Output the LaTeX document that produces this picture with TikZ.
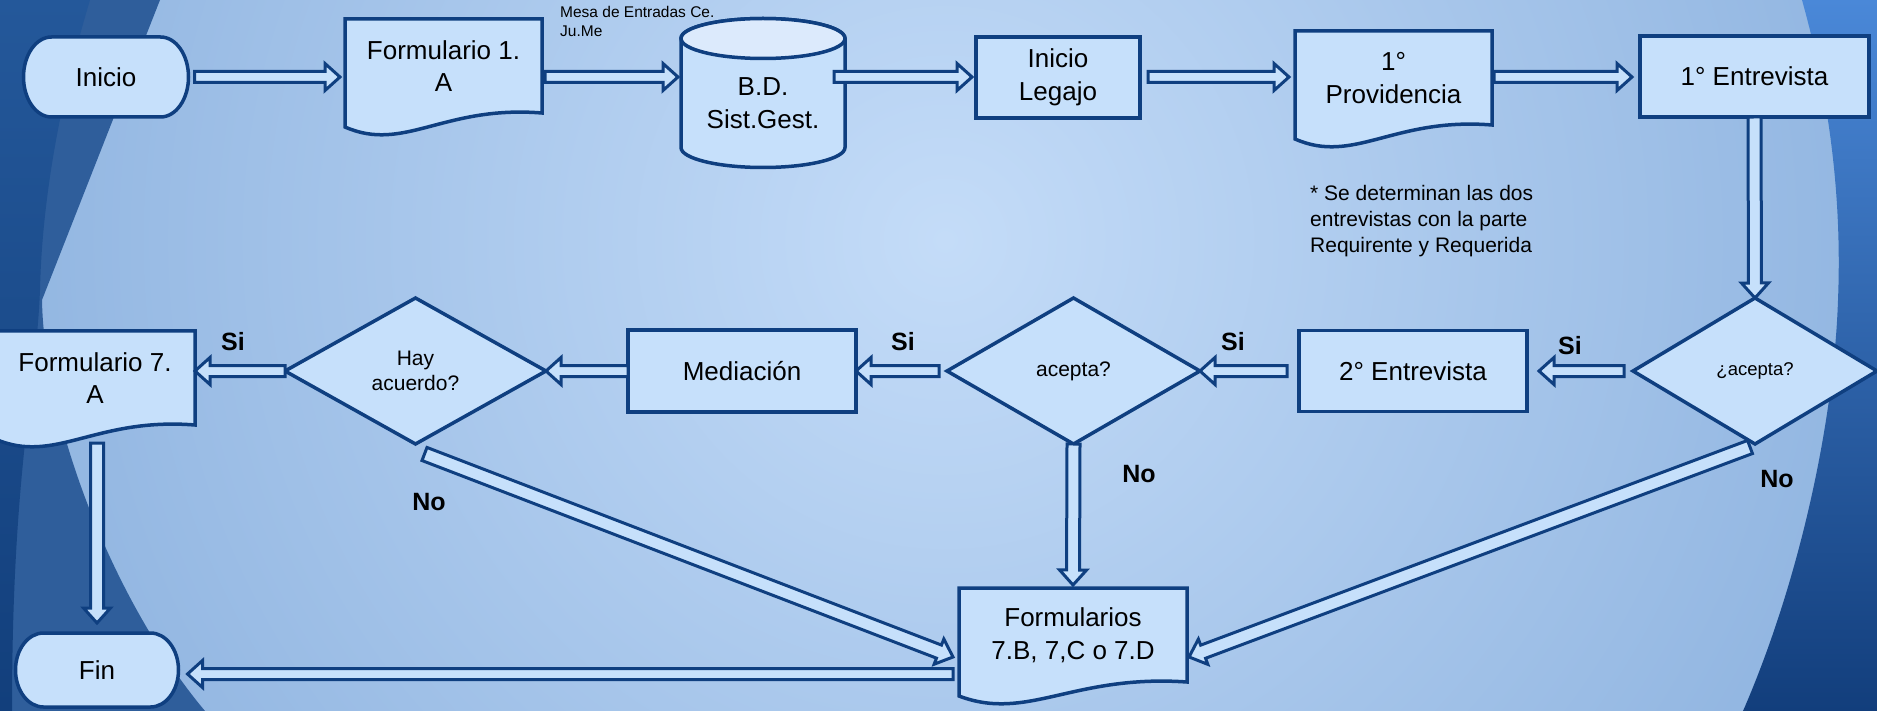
\documentclass[tikz,border=0pt]{standalone}
\usepackage{fontspec}
\setmainfont{Liberation Sans}
\usetikzlibrary{calc}
\definecolor{lt}{HTML}{C6E0FB}
\definecolor{dk}{HTML}{0F3F80}
\definecolor{ltop}{HTML}{DCEAFC}
\definecolor{bgc}{HTML}{C4DCF8}
\definecolor{bgo}{HTML}{75A0D4}
\definecolor{bandm}{HTML}{2F5E9B}
\definecolor{darkla}{HTML}{24589A}
\definecolor{darklb}{HTML}{123F7C}
\definecolor{rtop}{HTML}{4A88D8}
\definecolor{rbot}{HTML}{123E7C}
\pgfdeclarelayer{bg}
\pgfdeclarelayer{shp}
\pgfsetlayers{bg,shp,main}
\pgfdeclareradialshading{bgshade}{\pgfpoint{0bp}{0bp}}{color(0bp)=(bgc); color(37bp)=(bgo); color(50bp)=(bgo)}
\tikzset{
 txt/.style={font=\fontsize{26}{32.5}\selectfont, align=center, text=black, inner sep=0pt, outer sep=0pt},
 ghost/.style={txt, rectangle},
 boxn/.style={txt, draw=dk, fill=lt, line width=3.5pt},
 shp/.style={draw=dk, fill=lt, line width=3.5pt},
 arr/.style={draw=dk, fill=lt, line width=3pt, line join=miter},
 lab/.style={font=\bfseries\fontsize{25}{30}\selectfont, inner sep=0pt}
}
\newcommand{\termpath}[3]{%
 \draw[shp] ($(#1.north west)+(#2,0)$) -- ($(#1.north east)+(-#2,0)$)
   arc[start angle=90, end angle=-90, x radius=#2pt, y radius=#3pt]
   -- ($(#1.south west)+(#2,0)$)
   arc[start angle=270, end angle=90, x radius=#2pt, y radius=#3pt] -- cycle;}
\newcommand{\docpath}[1]{%
 \draw[shp] (#1.north west) -- (#1.north east) -- (#1.south east)
   .. controls ($(#1.south west)!0.5!(#1.south east)+(0,-8)$) and ($(#1.south west)!0.3!(#1.south east)+(0,40)$) ..
   ($(#1.south west)+(0,14)$) -- cycle;}
\newcommand{\barrow}[3][5.5]{%
 \draw[arr] let \p1=#2, \p2=#3, \n1={atan2(\y2-\y1,\x2-\x1)}, \n2={veclen(\x2-\x1,\y2-\y1)} in
 [shift={(\p1)}, rotate=\n1]
 (0pt,-#1pt) -- ({\n2-15pt},-#1pt) -- ({\n2-15pt},-13.5pt) -- (\n2,0pt) -- ({\n2-15pt},13.5pt) -- ({\n2-15pt},#1pt) -- (0pt,#1pt) -- cycle;}
\begin{document}
\begin{tikzpicture}[x=1pt,y=-1pt]
\useasboundingbox (0,0) rectangle (1877,711);
\begin{pgfonlayer}{bg}
 \clip (0,0) rectangle (1877,711);
 \shade[shading=bgshade] (-55,-760) rectangle (1945,1240);
 \fill[bandm] (0,0) -- (160,0) -- (42,300) .. controls (44,420) and (112,600) .. (205,711) -- (0,711) -- cycle;
 \shade[top color=darkla, bottom color=darklb] (0,0) -- (90,0) .. controls (60,100) and (42,200) .. (40,290) .. controls (36,390) and (12,470) .. (12,711) -- (0,711) -- cycle;
 \shade[top color=rtop, bottom color=rbot] (1802,0) .. controls (1830,100) and (1842,200) .. (1838,300) .. controls (1834,420) and (1800,580) .. (1743,711) -- (1877,711) -- (1877,0) -- cycle;
\end{pgfonlayer}

% nodes
\node[ghost, minimum width=165pt, minimum height=80pt] (ini) at (106,77) {Inicio};
\node[ghost, minimum width=197pt, minimum height=94pt] (f1a) at (443.5,66) {Formulario 1.\\A};
\node[ghost, minimum width=164pt, minimum height=129pt] (bd) at (763,103) {B.D.\\Sist.Gest.};
\node[anchor=north west, inner sep=0pt, font=\fontsize{15.5}{19.5}\selectfont, align=left] (mesa) at (560,6) {Mesa de Entradas Ce.\\Ju.Me};
\node[boxn, minimum width=164pt, minimum height=81pt] (inl) at (1058,77.5) {Inicio\\Legajo};
\node[ghost, minimum width=197pt, minimum height=94pt] (p1) at (1393.5,78) {1°\\Providencia};
\node[boxn, minimum width=229pt, minimum height=81pt] (e1) at (1754.5,76.5) {1° Entrevista};
\node[anchor=north west, inner sep=0pt, font=\fontsize{21}{26}\selectfont, align=left] (nota) at (1310,185) {* Se determinan las dos\\entrevistas con la parte\\Requirente y Requerida};

\node[ghost, minimum width=244pt, minimum height=146pt, font=\fontsize{18.5}{22}\selectfont] (ac2) at (1755,371) {¿acepta?};
\node[boxn, minimum width=228pt, minimum height=81pt] (e2) at (1413,371) {2° Entrevista};
\node[ghost, minimum width=253pt, minimum height=146pt, font=\fontsize{21}{25}\selectfont] (ac1) at (1073.5,371) {acepta?};
\node[boxn, minimum width=228pt, minimum height=82pt] (med) at (742,371) {Mediación};
\node[ghost, minimum width=261pt, minimum height=146pt, font=\fontsize{21}{25}\selectfont] (hay) at (415.5,371) {Hay\\acuerdo?};
\node[ghost, minimum width=200pt, minimum height=94pt] (f7a) at (95,378) {Formulario 7.\\A};
\node[ghost, minimum width=163pt, minimum height=74pt] (fin) at (97,670) {Fin};
\node[ghost, minimum width=228pt, minimum height=94pt] (fb) at (1073,635) {Formularios\\7.B, 7,C o 7.D};

% shapes
\begin{pgfonlayer}{shp}
 \termpath{ini}{28}{40}
 \termpath{fin}{28}{37}
 \docpath{f1a}
 \docpath{p1}
 \docpath{f7a}
 \docpath{fb}
 \draw[shp] (bd.north west) -- ($(bd.south west)+(0,-20)$) arc[start angle=180, end angle=360, x radius=82pt, y radius=20pt] -- (bd.north east) arc[start angle=0, end angle=180, x radius=82pt, y radius=20pt] -- cycle;
 \draw[shp, fill=ltop] (bd.north) ellipse [x radius=82pt, y radius=20pt];
 \draw[shp] (ac2.north) -- (ac2.east) -- (ac2.south) -- (ac2.west) -- cycle;
 \draw[shp] (ac1.north) -- (ac1.east) -- (ac1.south) -- (ac1.west) -- cycle;
 \draw[shp] (hay.north) -- (hay.east) -- (hay.south) -- (hay.west) -- cycle;
\end{pgfonlayer}

% connectors
\barrow{($(ini.east)+(6,0)$)}{($(ini.east -| f1a.west)+(-5,0)$)}
\barrow{($(ini.east -| f1a.east)+(3,0)$)}{($(ini.east -| bd.west)+(-3,0)$)}
\barrow{($(ini.east -| bd.east)+(-11,0)$)}{($(ini.east -| inl.west)+(-4,0)$)}
\barrow{($(ini.east -| inl.east)+(8,0)$)}{($(ini.east -| p1.west)+(-6,0)$)}
\barrow{($(ini.east -| p1.east)+(2,0)$)}{($(ini.east -| e1.west)+(-8,0)$)}
\barrow[6.5]{(e1.south)}{(ac2.north)}
\barrow{($(ac2.west)+(-9,0)$)}{($(e2.east)+(12,0)$)}
\barrow{($(e2.west)+(-12,0)$)}{(ac1.east)}
\barrow{($(ac1.west)+(-8,0)$)}{(med.east)}
\barrow{(med.west)}{(hay.east)}
\barrow{(hay.west)}{(hay.west -| f7a.east)}
\barrow[6.5]{($(f7a.south)+(2,18)$)}{($(fin.north)+(0,-10)$)}
\barrow[6.5]{(ac1.south)}{($(fb.north)+(0,-3)$)}
\barrow{($(fb.west)+(-6,39)$)}{($(fin.east)+(9,4)$)}
\barrow[7]{($(hay.south)+(9,10)$)}{($(fb.west)+(-6,22)$)}
\barrow[7]{($(ac2.south)+(-5,3)$)}{($(fb.east)+(2,22)$)}

% labels
\node[lab] (si1) at (1570,346) {Si};
\node[lab] (si2) at (1233,342) {Si};
\node[lab] (si3) at (903,342) {Si};
\node[lab] (si4) at (233,342) {Si};
\node[lab] (no1) at (429,502) {No};
\node[lab] (no2) at (1139,474) {No};
\node[lab] (no3) at (1777,479) {No};
\end{tikzpicture}
\end{document}
